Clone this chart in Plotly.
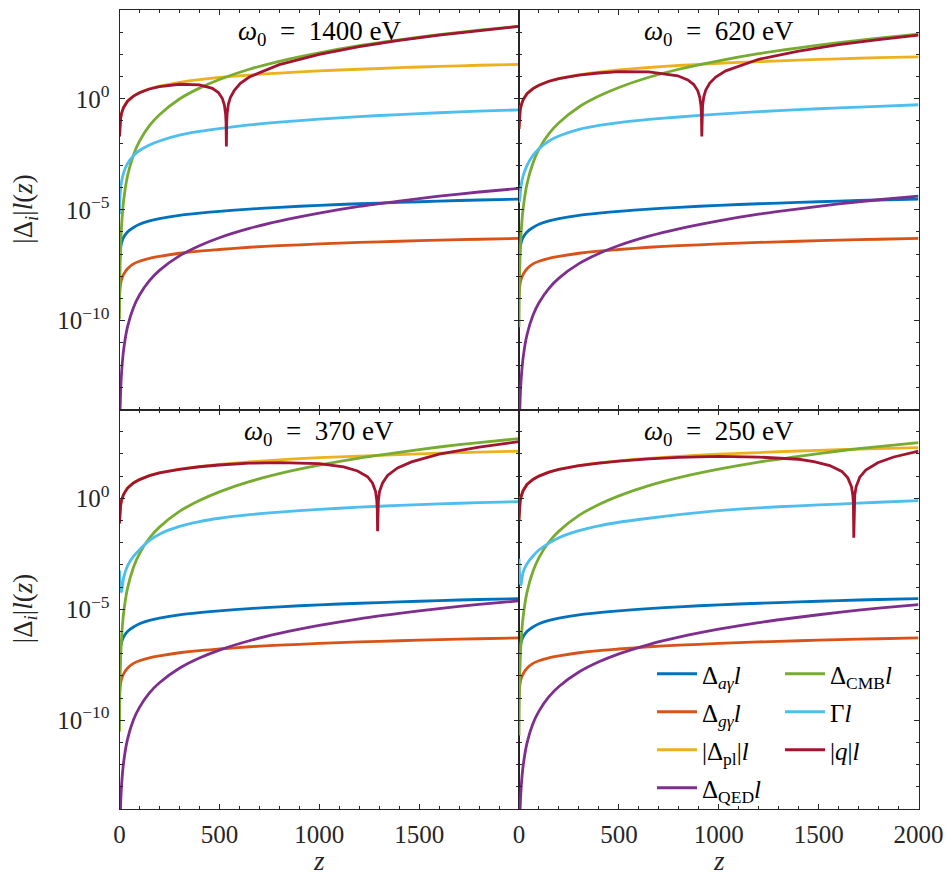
import numpy as np
import plotly.graph_objects as go

# Redshift grid shared by the smooth terms
z = [0, 1, 3, 6, 10, 20, 40, 70, 100, 150, 200, 300, 400, 500, 650, 800, 1000, 1200, 1400, 1600, 1800, 2000]

# log10 of each mixing term times l(z); the axion and graviton couplings do not depend on omega_0
log_d_ag = [-7.65, -7.30, -6.95, -6.70, -6.50, -6.25, -6.00, -5.80, -5.65, -5.50, -5.40, -5.25, -5.15, -5.07, -4.97, -4.89, -4.80, -4.73, -4.67, -4.61, -4.56, -4.52]
log_d_gg = [-9.00, -8.75, -8.51, -8.31, -8.15, -7.92, -7.66, -7.44, -7.32, -7.19, -7.10, -6.96, -6.86, -6.79, -6.69, -6.62, -6.54, -6.47, -6.42, -6.37, -6.33, -6.29]

# omega_0 = 1400 eV
log_pl_1400 = [-1.70, -1.40, -1.11, -0.87, -0.67, -0.40, -0.11, 0.12, 0.27, 0.45, 0.57, 0.74, 0.86, 0.96, 1.07, 1.16, 1.26, 1.33, 1.40, 1.46, 1.51, 1.55]
log_qed_1400 = [-16.25, -15.14, -14.02, -13.12, -12.40, -11.36, -10.28, -9.40, -8.84, -8.19, -7.73, -7.08, -6.62, -6.26, -5.84, -5.51, -5.15, -4.85, -4.61, -4.39, -4.20, -4.04]
log_cmb_1400 = [-9.93, -8.73, -7.52, -6.55, -5.77, -4.64, -3.48, -2.53, -1.91, -1.21, -0.72, -0.01, 0.48, 0.87, 1.33, 1.69, 2.07, 2.39, 2.65, 2.89, 3.09, 3.27]
log_gam_1400 = [-5.20, -4.85, -4.40, -4.02, -3.75, -3.35, -2.92, -2.56, -2.33, -2.08, -1.90, -1.64, -1.47, -1.34, -1.18, -1.05, -0.92, -0.80, -0.71, -0.63, -0.56, -0.50]
z_q_1400 = [0, 1, 3, 6, 10, 20, 40, 70, 100, 150, 200, 300, 400, 465, 495, 515, 525, 531, 533.5, 535, 536.5, 539, 545, 555, 575, 605, 650, 800, 1000, 1200, 1400, 1600, 1800, 2000]
log_q_1400 = [-1.70, -1.40, -1.11, -0.87, -0.67, -0.40, -0.11, 0.12, 0.27, 0.44, 0.55, 0.655, 0.626, 0.47, 0.28, 0.01, -0.28, -0.67, -1.09, -2.15, -1.09, -0.66, -0.25, 0.06, 0.38, 0.70, 0.98, 1.54, 2.00, 2.35, 2.63, 2.87, 3.08, 3.26]

# omega_0 = 620 eV
log_pl_620 = [-1.36, -1.06, -0.77, -0.53, -0.33, -0.06, 0.23, 0.46, 0.61, 0.79, 0.91, 1.08, 1.20, 1.30, 1.41, 1.50, 1.60, 1.67, 1.74, 1.80, 1.85, 1.89]
log_qed_620 = [-16.60, -15.49, -14.37, -13.47, -12.75, -11.71, -10.63, -9.75, -9.19, -8.54, -8.08, -7.43, -6.97, -6.61, -6.19, -5.86, -5.50, -5.20, -4.96, -4.74, -4.55, -4.39]
log_cmb_620 = [-10.29, -9.09, -7.88, -6.91, -6.13, -5.00, -3.84, -2.89, -2.27, -1.57, -1.08, -0.37, 0.12, 0.51, 0.97, 1.33, 1.71, 2.03, 2.29, 2.53, 2.73, 2.91]
log_gam_620 = [-4.19, -4.40, -4.62, -4.30, -3.95, -3.50, -3.00, -2.55, -2.25, -1.90, -1.68, -1.38, -1.20, -1.07, -0.93, -0.82, -0.69, -0.58, -0.49, -0.41, -0.34, -0.27]
z_q_620 = [0, 1, 3, 6, 10, 20, 40, 70, 100, 150, 200, 300, 400, 500, 650, 795, 845, 875, 895, 905, 911, 913.5, 915, 916.5, 919, 925, 935, 955, 985, 1035, 1200, 1400, 1600, 1800, 2000]
log_q_620 = [-1.36, -1.06, -0.77, -0.53, -0.33, -0.06, 0.23, 0.46, 0.61, 0.79, 0.905, 1.064, 1.162, 1.223, 1.214, 1.035, 0.85, 0.64, 0.36, 0.065, -0.33, -0.75, -1.70, -0.75, -0.32, 0.085, 0.39, 0.71, 0.98, 1.26, 1.78, 2.15, 2.44, 2.67, 2.87]

# omega_0 = 370 eV
log_pl_370 = [-1.13, -0.83, -0.54, -0.30, -0.10, 0.17, 0.46, 0.69, 0.84, 1.02, 1.14, 1.31, 1.43, 1.53, 1.64, 1.73, 1.83, 1.90, 1.97, 2.03, 2.08, 2.12]
log_qed_370 = [-16.83, -15.72, -14.60, -13.70, -12.98, -11.94, -10.86, -9.98, -9.42, -8.77, -8.31, -7.66, -7.20, -6.84, -6.42, -6.09, -5.73, -5.43, -5.19, -4.97, -4.78, -4.62]
log_cmb_370 = [-10.51, -9.31, -8.10, -7.13, -6.35, -5.22, -4.06, -3.11, -2.49, -1.79, -1.30, -0.59, -0.10, 0.29, 0.75, 1.11, 1.49, 1.81, 2.07, 2.31, 2.51, 2.69]
log_gam_370 = [-3.25, -3.45, -3.75, -4.05, -4.22, -3.60, -3.05, -2.62, -2.32, -1.90, -1.62, -1.27, -1.05, -0.90, -0.74, -0.62, -0.50, -0.40, -0.32, -0.25, -0.20, -0.15]
z_q_370 = [0, 1, 3, 6, 10, 20, 40, 70, 100, 150, 200, 300, 400, 500, 650, 800, 1000, 1122, 1192, 1242, 1267, 1282, 1288, 1290.5, 1292, 1293.5, 1296, 1302, 1317, 1342, 1392, 1462, 1600, 1800, 2000]
log_q_370 = [-1.13, -0.83, -0.54, -0.30, -0.10, 0.17, 0.46, 0.69, 0.84, 1.02, 1.14, 1.30, 1.42, 1.50, 1.58, 1.61, 1.565, 1.415, 1.23, 0.97, 0.68, 0.30, -0.10, -0.52, -1.48, -0.52, -0.10, 0.31, 0.69, 1.03, 1.37, 1.64, 1.99, 2.31, 2.55]

# omega_0 = 250 eV
log_pl_250 = [-0.97, -0.67, -0.38, -0.14, 0.06, 0.33, 0.62, 0.85, 1.00, 1.18, 1.30, 1.47, 1.59, 1.69, 1.80, 1.89, 1.99, 2.06, 2.13, 2.19, 2.24, 2.28]
log_qed_250 = [-17.00, -15.89, -14.77, -13.87, -13.15, -12.11, -11.03, -10.15, -9.59, -8.94, -8.48, -7.83, -7.37, -7.01, -6.59, -6.26, -5.90, -5.60, -5.36, -5.14, -4.95, -4.79]
log_cmb_250 = [-10.69, -9.49, -8.28, -7.31, -6.53, -5.40, -4.24, -3.29, -2.67, -1.97, -1.48, -0.77, -0.28, 0.11, 0.57, 0.93, 1.31, 1.63, 1.89, 2.13, 2.33, 2.51]
log_gam_250 = [-2.72, -3.00, -3.45, -3.80, -3.90, -3.35, -2.95, -2.60, -2.33, -2.02, -1.78, -1.46, -1.24, -1.08, -0.90, -0.74, -0.56, -0.43, -0.34, -0.26, -0.18, -0.11]
z_q_250 = [0, 1, 3, 6, 10, 20, 40, 70, 100, 150, 200, 300, 400, 500, 650, 800, 1000, 1200, 1400, 1476, 1556, 1616, 1646, 1664, 1671, 1674, 1676, 1678, 1681, 1688, 1706, 1736, 1796, 1876, 2000]
log_q_250 = [-0.97, -0.67, -0.38, -0.14, 0.06, 0.33, 0.62, 0.85, 1.00, 1.18, 1.30, 1.47, 1.584, 1.678, 1.774, 1.84, 1.888, 1.858, 1.758, 1.655, 1.476, 1.21, 0.92, 0.53, 0.16, -0.24, -1.78, -0.24, 0.16, 0.53, 0.95, 1.27, 1.60, 1.86, 2.12]

panel_titles = ["1400", "620", "370", "250"]
panel_data = [
    (log_pl_1400, log_qed_1400, log_cmb_1400, log_gam_1400, z_q_1400, log_q_1400),
    (log_pl_620, log_qed_620, log_cmb_620, log_gam_620, z_q_620, log_q_620),
    (log_pl_370, log_qed_370, log_cmb_370, log_gam_370, z_q_370, log_q_370),
    (log_pl_250, log_qed_250, log_cmb_250, log_gam_250, z_q_250, log_q_250),
]

labels = [
    "Δ<sub><i>aγ</i></sub><i>l</i>",
    "Δ<sub><i>gγ</i></sub><i>l</i>",
    "|Δ<sub>pl</sub>|<i>l</i>",
    "Δ<sub>QED</sub><i>l</i>",
    "Δ<sub>CMB</sub><i>l</i>",
    "Γ<i>l</i>",
    "|<i>q</i>|<i>l</i>",
]
colors = ["#0072BD", "#D95319", "#EDB120", "#7E2F8E", "#77AC30", "#4DBEEE", "#A2142F"]

W, H = 948, 876
FONT = "Liberation Serif, DejaVu Serif, serif"
INK = "#262626"

# subplot boxes in pixels: (left, right, top, bottom)
col_px = [(119.5, 519.0), (519.0, 918.5)]
row_px = [(10.0, 409.5), (409.5, 809.0)]

fig = go.Figure()

for p, (pl, qed, cmb, gam, zq, lq) in enumerate(panel_data):
    ax = "" if p == 0 else str(p + 1)
    series = [
        (z, log_d_ag), (z, log_d_gg), (z, pl), (z, qed),
        (z, cmb), (z, gam), (zq, lq),
    ]
    for k, (zz, vals) in enumerate(series):
        smooth = k != 6
        fig.add_trace(go.Scatter(
            x=zz, y=10 ** np.array(vals, dtype=float),
            mode="lines",
            line=dict(color=colors[k], width=2.8,
                      shape="spline" if smooth else "linear",
                      smoothing=0.7 if smooth else None),
            name=labels[k],
            legendgroup=f"g{k}",
            legend="legend" if k < 4 else "legend2",
            showlegend=(p == 3),
            xaxis="x" + ax, yaxis="y" + ax,
            hoverinfo="skip",
        ))

decades = [10.0 ** e for e in range(-14, 5)]

layout_axes = {}
for p in range(4):
    r, c = divmod(p, 2)
    ax = "" if p == 0 else str(p + 1)
    x0, x1 = col_px[c]
    t0, t1 = row_px[r]
    show_x = r == 1
    xtext = ["0", "500", "1000", "1500", "2000" if c == 1 else ""]
    layout_axes["xaxis" + ax] = dict(
        domain=[x0 / W, x1 / W], anchor="y" + ax, automargin=False,
        range=[0, 2000], showline=True, linecolor=INK, linewidth=1,
        mirror="allticks", ticks="inside", ticklen=5, tickwidth=1, tickcolor=INK,
        tickmode="array", tickvals=[0, 500, 1000, 1500, 2000], ticktext=xtext,
        showticklabels=show_x, ticklabelstandoff=3,
        minor=dict(tickmode="array", tickvals=list(range(100, 2000, 100)),
                   ticks="inside", ticklen=3, tickcolor=INK),
        showgrid=False, zeroline=False,
        tickfont=dict(family=FONT, size=25, color=INK),
    )
    layout_axes["yaxis" + ax] = dict(
        domain=[(H - t1) / H, (H - t0) / H], anchor="x" + ax, automargin=False,
        type="log", range=[-14, 4], showline=True, linecolor=INK, linewidth=1,
        mirror="allticks", ticks="inside", ticklen=5, tickwidth=1, tickcolor=INK,
        tickmode="array", tickvals=[1e-10, 1e-5, 1.0],
        ticktext=["10<sup>−10</sup>", "10<sup>−5</sup>", "10<sup>0</sup>"],
        showticklabels=(c == 0), ticklabelstandoff=4,
        minor=dict(tickmode="array", tickvals=decades,
                   ticks="inside", ticklen=3, tickcolor=INK),
        showgrid=False, zeroline=False,
        tickfont=dict(family=FONT, size=25, color=INK),
    )

annotations = []
for p, w0 in enumerate(panel_titles):
    r, c = divmod(p, 2)
    x0, x1 = col_px[c]
    t0, t1 = row_px[r]
    annotations.append(dict(
        text=f"<i>ω</i><sub>0</sub>\u2002=\u2002{w0} eV",
        x=(x0 + x1) / 2 / W, y=(H - (t0 + 23)) / H,
        xref="paper", yref="paper", xanchor="center", yanchor="middle",
        showarrow=False, font=dict(family=FONT, size=27, color="black"),
    ))
for r in range(2):
    t0, t1 = row_px[r]
    annotations.append(dict(
        text="|Δ<sub><i>i</i></sub>|<i>l</i>(<i>z</i>)",
        x=25 / W, y=(H - (t0 + t1) / 2) / H, textangle=-90,
        xref="paper", yref="paper", xanchor="center", yanchor="middle",
        showarrow=False, font=dict(family=FONT, size=27, color=INK),
    ))
for c in range(2):
    x0, x1 = col_px[c]
    annotations.append(dict(
        text="<i>z</i>", x=(x0 + x1) / 2 / W, y=(H - 861) / H,
        xref="paper", yref="paper", xanchor="center", yanchor="middle",
        showarrow=False, font=dict(family=FONT, size=27, color=INK),
    ))

legend_style = dict(
    xanchor="left", yanchor="top", bgcolor="rgba(0,0,0,0)",
    font=dict(family=FONT, size=25, color="black"),
    tracegroupgap=2.5, itemwidth=40, borderwidth=0,
)

fig.update_layout(
    width=W, height=H,
    margin=dict(l=0, r=0, t=0, b=0, autoexpand=False),
    paper_bgcolor="white", plot_bgcolor="white",
    annotations=annotations,
    legend=dict(x=652 / W, y=(H - 651) / H, **legend_style),
    legend2=dict(x=780 / W, y=(H - 651) / H, **legend_style),
    **layout_axes,
)

fig.write_html("out.html")
